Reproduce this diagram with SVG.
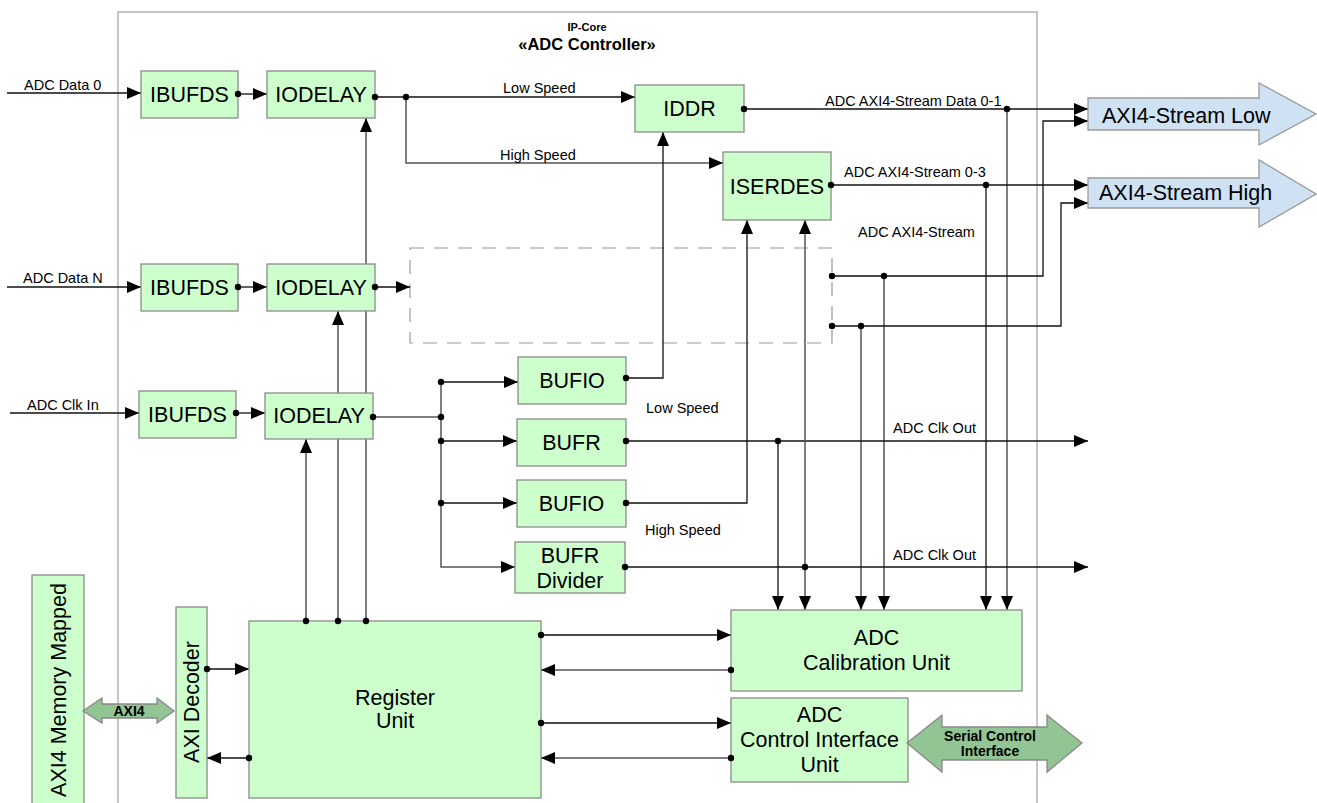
<svg xmlns="http://www.w3.org/2000/svg" width="1317" height="803" viewBox="0 0 1317 803">
  <style>
    .blk { fill: #ccffcc; stroke: #8a8a8a; stroke-width: 1.3; }
    .big { font-family: "Liberation Sans", Arial, sans-serif; font-size: 21.5px; fill: #000; }
    .lbl { font-family: "Liberation Sans", Arial, sans-serif; font-size: 14.5px; fill: #000; }
    .bold { font-family: "Liberation Sans", Arial, sans-serif; font-weight: bold; fill: #000; }
    .wire { fill: none; stroke: #111; stroke-width: 1.3; }
    .wire-g { fill: none; stroke: #555; stroke-width: 1.5; }
    .dot { fill: #000; }
    .stream { fill: #cfe2f3; stroke: #9a9a9a; stroke-width: 1.3; }
    .bus { fill: #93c493; stroke: #888; stroke-width: 1.3; }
  </style>
  <defs>
    <marker id="arr" markerUnits="userSpaceOnUse" markerWidth="16" markerHeight="12" refX="14" refY="6" orient="auto">
      <path d="M0,0 L14,6 L0,12 Z" fill="#000"/>
    </marker>
  </defs>

  <rect width="1317" height="803" fill="#ffffff"/>

  <!-- IP-core boundary -->
  <g id="ipcore">
    <rect x="118" y="12" width="919" height="805" fill="none" stroke="#b3b3b3" stroke-width="1.5"/>
    <text class="bold" x="587" y="31" font-size="11" text-anchor="middle">IP-Core</text>
    <text class="bold" x="587" y="50" font-size="16.5" text-anchor="middle">«ADC Controller»</text>
  </g>

  <!-- placeholder for further data lanes -->
  <g id="lane-n">
    <rect x="410" y="248" width="422" height="95" fill="none" stroke="#999" stroke-width="1.2" stroke-dasharray="14 10"/>
  </g>

  <!-- connectors -->
  <g id="connectors">
    <!-- data lane 0 -->
    <path class="wire" d="M7,93 H141" marker-end="url(#arr)"/>
    <path class="wire" d="M238,94 H267" marker-end="url(#arr)"/>
    <path class="wire" d="M375,97 H635" marker-end="url(#arr)"/>
    <path class="wire-g" d="M406,97 V163 H723" marker-end="url(#arr)"/>
    <path class="wire" d="M744,109 H1088" marker-end="url(#arr)"/>
    <path class="wire-g" d="M1007,109 V610" marker-end="url(#arr)"/>
    <path class="wire" d="M831,185 H1088" marker-end="url(#arr)"/>
    <path class="wire" d="M986,185 V610" marker-end="url(#arr)"/>
    <!-- lane N outputs -->
    <path class="wire" d="M832,276 H1043 V121 H1088" marker-end="url(#arr)"/>
    <path class="wire-g" d="M884,276 V610" marker-end="url(#arr)"/>
    <path class="wire" d="M832,326 H1061 V203 H1088" marker-end="url(#arr)"/>
    <path class="wire-g" d="M861,326 V610" marker-end="url(#arr)"/>
    <!-- data lane N -->
    <path class="wire" d="M7,287 H141" marker-end="url(#arr)"/>
    <path class="wire" d="M238,287 H267" marker-end="url(#arr)"/>
    <path class="wire" d="M375,287 H410" marker-end="url(#arr)"/>
    <!-- clock input -->
    <path class="wire" d="M10,413 H139" marker-end="url(#arr)"/>
    <path class="wire" d="M236,413 H265" marker-end="url(#arr)"/>
    <path class="wire-g" d="M373,417 H441"/>
    <path class="wire-g" d="M441,382 V567 H515" marker-end="url(#arr)"/>
    <path class="wire" d="M441,382 H518" marker-end="url(#arr)"/>
    <path class="wire" d="M441,441 H517" marker-end="url(#arr)"/>
    <path class="wire" d="M441,503 H517" marker-end="url(#arr)"/>
    <!-- clock buffers -->
    <path class="wire" d="M626,378 H663 V132" marker-end="url(#arr)"/>
    <path class="wire" d="M626,441 H1088" marker-end="url(#arr)"/>
    <path class="wire" d="M778,441 V610" marker-end="url(#arr)"/>
    <path class="wire" d="M626,503 H747 V220" marker-end="url(#arr)"/>
    <path class="wire" d="M625,567 H1088" marker-end="url(#arr)"/>
    <path class="wire-g" d="M805,567 V220" marker-end="url(#arr)"/>
    <path class="wire-g" d="M805,567 V610" marker-end="url(#arr)"/>
    <!-- delay control from register unit -->
    <path class="wire-g" d="M306,621 V439" marker-end="url(#arr)"/>
    <path class="wire-g" d="M338,621 V311" marker-end="url(#arr)"/>
    <path class="wire-g" d="M366,621 V118" marker-end="url(#arr)"/>
    <!-- AXI decoder / register unit -->
    <path class="wire" d="M207,669 H249" marker-end="url(#arr)"/>
    <path class="wire" d="M249,758 H207" marker-end="url(#arr)"/>
    <!-- register unit / calibration and control -->
    <path class="wire" d="M541,635 H731" marker-end="url(#arr)"/>
    <path class="wire-g" d="M731,670 H541" marker-end="url(#arr)"/>
    <path class="wire" d="M541,723 H731" marker-end="url(#arr)"/>
    <path class="wire-g" d="M731,758 H541" marker-end="url(#arr)"/>

    <!-- signal labels -->
    <text class="lbl" x="24" y="90">ADC Data 0</text>
    <text class="lbl" x="23" y="283">ADC Data N</text>
    <text class="lbl" x="27" y="410">ADC Clk In</text>
    <text class="lbl" x="503" y="93">Low Speed</text>
    <text class="lbl" x="500" y="160">High Speed</text>
    <text class="lbl" x="825" y="106">ADC AXI4-Stream Data 0-1</text>
    <text class="lbl" x="844" y="177">ADC AXI4-Stream 0-3</text>
    <text class="lbl" x="858" y="237">ADC AXI4-Stream</text>
    <text class="lbl" x="646" y="413">Low Speed</text>
    <text class="lbl" x="893" y="433">ADC Clk Out</text>
    <text class="lbl" x="645" y="535">High Speed</text>
    <text class="lbl" x="893" y="560">ADC Clk Out</text>
  </g>

  <!-- data lane 0 -->
  <g id="ibufds-0">
    <rect class="blk" x="141" y="71" width="97" height="47"/>
    <text class="big" x="189.5" y="102" text-anchor="middle">IBUFDS</text>
  </g>
  <g id="iodelay-0">
    <rect class="blk" x="267" y="71" width="108" height="47"/>
    <text class="big" x="321" y="102" text-anchor="middle">IODELAY</text>
  </g>
  <g id="iddr">
    <rect class="blk" x="635" y="85" width="109" height="47"/>
    <text class="big" x="689.5" y="116" text-anchor="middle">IDDR</text>
  </g>
  <g id="iserdes">
    <rect class="blk" x="723" y="152" width="108" height="68"/>
    <text class="big" x="777" y="194" text-anchor="middle">ISERDES</text>
  </g>

  <!-- data lane N -->
  <g id="ibufds-n">
    <rect class="blk" x="141" y="264" width="97" height="47"/>
    <text class="big" x="189.5" y="295" text-anchor="middle">IBUFDS</text>
  </g>
  <g id="iodelay-n">
    <rect class="blk" x="267" y="264" width="108" height="47"/>
    <text class="big" x="321" y="295" text-anchor="middle">IODELAY</text>
  </g>

  <!-- clock path -->
  <g id="ibufds-clk">
    <rect class="blk" x="139" y="391" width="97" height="47"/>
    <text class="big" x="187.5" y="422" text-anchor="middle">IBUFDS</text>
  </g>
  <g id="iodelay-clk">
    <rect class="blk" x="265" y="393" width="108" height="46"/>
    <text class="big" x="319" y="423" text-anchor="middle">IODELAY</text>
  </g>
  <g id="bufio-low">
    <rect class="blk" x="518" y="357" width="108" height="47"/>
    <text class="big" x="572" y="388" text-anchor="middle">BUFIO</text>
  </g>
  <g id="bufr">
    <rect class="blk" x="517" y="419" width="109" height="47"/>
    <text class="big" x="571.5" y="450" text-anchor="middle">BUFR</text>
  </g>
  <g id="bufio-high">
    <rect class="blk" x="517" y="480" width="109" height="47"/>
    <text class="big" x="571.5" y="511" text-anchor="middle">BUFIO</text>
  </g>
  <g id="bufr-divider">
    <rect class="blk" x="515" y="542" width="110" height="51"/>
    <text class="big" x="570" y="563" text-anchor="middle">BUFR</text>
    <text class="big" x="570" y="588" text-anchor="middle">Divider</text>
  </g>

  <!-- control side -->
  <g id="axi4-memory-mapped">
    <rect class="blk" x="32" y="575" width="52" height="240"/>
    <text class="big" transform="translate(66,690) rotate(-90)" text-anchor="middle">AXI4 Memory Mapped</text>
  </g>
  <g id="axi-decoder">
    <rect class="blk" x="176" y="607" width="31" height="191"/>
    <text class="big" transform="translate(199,702) rotate(-90)" text-anchor="middle">AXI Decoder</text>
  </g>
  <g id="axi4-bus">
    <polygon class="bus" points="83,711 102,698 102,704 157,704 157,698 174,711 157,723 157,718 102,718 102,723"/>
    <text class="bold" x="129" y="716" font-size="14" text-anchor="middle">AXI4</text>
  </g>
  <g id="register-unit">
    <rect class="blk" x="249" y="621" width="292" height="177"/>
    <text class="big" x="395" y="705" text-anchor="middle">Register</text>
    <text class="big" x="395" y="728" text-anchor="middle">Unit</text>
  </g>
  <g id="calibration-unit">
    <rect class="blk" x="731" y="610" width="291" height="81"/>
    <text class="big" x="876.5" y="645" text-anchor="middle">ADC</text>
    <text class="big" x="876.5" y="670" text-anchor="middle">Calibration Unit</text>
  </g>
  <g id="control-interface-unit">
    <rect class="blk" x="731" y="698" width="177" height="84"/>
    <text class="big" x="819.5" y="722" text-anchor="middle">ADC</text>
    <text class="big" x="819.5" y="747" text-anchor="middle">Control Interface</text>
    <text class="big" x="819.5" y="772" text-anchor="middle">Unit</text>
  </g>
  <g id="serial-control-interface">
    <polygon class="bus" points="907,743 942,715 942,727 1047,727 1047,715 1082,743 1047,772 1047,760 942,760 942,772"/>
    <text class="bold" x="990" y="741" font-size="14" text-anchor="middle">Serial Control</text>
    <text class="bold" x="990" y="756" font-size="14" text-anchor="middle">Interface</text>
  </g>

  <!-- stream outputs -->
  <g id="axi4-stream-low">
    <polygon class="stream" points="1088,98 1259,98 1259,83 1316,114 1259,145 1259,130 1088,130"/>
    <text class="big" x="1102" y="123" font-size="22">AXI4-Stream Low</text>
  </g>
  <g id="axi4-stream-high">
    <polygon class="stream" points="1088,178 1259,178 1259,160 1316,194 1259,227 1259,208 1088,208"/>
    <text class="big" x="1099" y="200" font-size="22">AXI4-Stream High</text>
  </g>

  <!-- connector ports and junctions, drawn above the block outlines -->
  <g id="connector-ports">
    <circle class="dot" cx="238" cy="94" r="3.2"/>
    <circle class="dot" cx="375" cy="97" r="3.2"/>
    <circle class="dot" cx="406" cy="97" r="3.2"/>
    <circle class="dot" cx="744" cy="109" r="3.2"/>
    <circle class="dot" cx="1007" cy="109" r="3.2"/>
    <circle class="dot" cx="831" cy="185" r="3.2"/>
    <circle class="dot" cx="986" cy="185" r="3.2"/>
    <circle class="dot" cx="832" cy="276" r="3.2"/>
    <circle class="dot" cx="884" cy="276" r="3.2"/>
    <circle class="dot" cx="832" cy="326" r="3.2"/>
    <circle class="dot" cx="861" cy="326" r="3.2"/>
    <circle class="dot" cx="238" cy="287" r="3.2"/>
    <circle class="dot" cx="375" cy="287" r="3.2"/>
    <circle class="dot" cx="236" cy="413" r="3.2"/>
    <circle class="dot" cx="373" cy="417" r="3.2"/>
    <circle class="dot" cx="441" cy="382" r="3.2"/>
    <circle class="dot" cx="441" cy="417" r="3.2"/>
    <circle class="dot" cx="441" cy="441" r="3.2"/>
    <circle class="dot" cx="441" cy="503" r="3.2"/>
    <circle class="dot" cx="626" cy="378" r="3.2"/>
    <circle class="dot" cx="626" cy="441" r="3.2"/>
    <circle class="dot" cx="778" cy="441" r="3.2"/>
    <circle class="dot" cx="626" cy="503" r="3.2"/>
    <circle class="dot" cx="625" cy="567" r="3.2"/>
    <circle class="dot" cx="805" cy="567" r="3.2"/>
    <circle class="dot" cx="306" cy="621" r="3.2"/>
    <circle class="dot" cx="338" cy="621" r="3.2"/>
    <circle class="dot" cx="366" cy="621" r="3.2"/>
    <circle class="dot" cx="207" cy="669" r="3.2"/>
    <circle class="dot" cx="249" cy="758" r="3.2"/>
    <circle class="dot" cx="541" cy="635" r="3.2"/>
    <circle class="dot" cx="731" cy="670" r="3.2"/>
    <circle class="dot" cx="541" cy="723" r="3.2"/>
    <circle class="dot" cx="731" cy="758" r="3.2"/>
  </g>
</svg>
